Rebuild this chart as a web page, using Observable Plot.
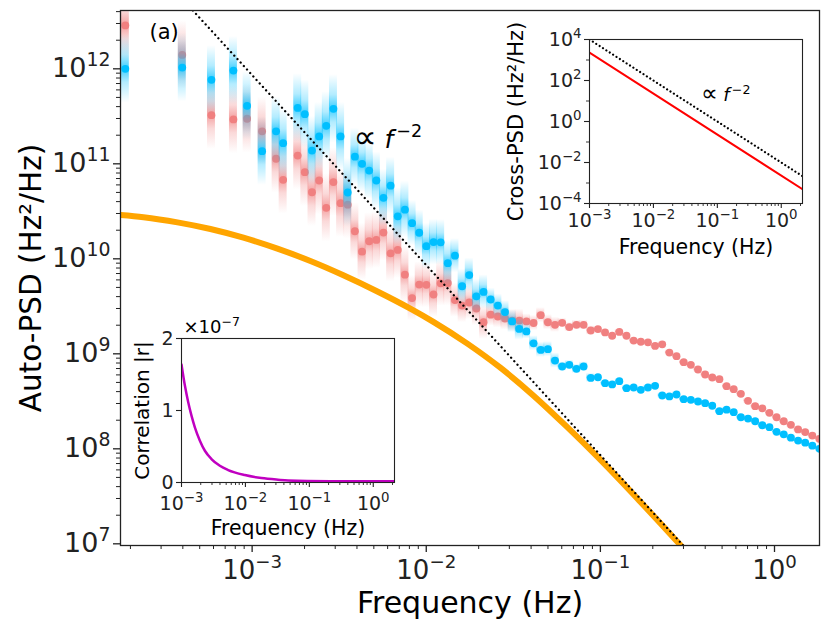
<!DOCTYPE html>
<html><head><meta charset="utf-8">
<script src="https://cdn.jsdelivr.net/npm/d3@7"></script>
<script src="https://cdn.jsdelivr.net/npm/@observablehq/plot@0.6"></script>
<style>
body{margin:0;background:#fff;}
#wrap{position:relative;width:831px;height:632px;font-family:"DejaVu Sans",sans-serif;}
#wrap svg{position:absolute;}
</style></head><body><div id="wrap"></div>
<script>
// ---------- data ----------
const freq = [1.87e-4,3.97e-4,5.84e-4,7.81e-4,9.36e-4,1.141e-3,1.373e-3,1.507e-3,
1.827e-3,2.008e-3,2.207e-3,2.426e-3,2.667e-3,2.931e-3,3.222e-3,3.541e-3,3.892e-3,4.278e-3,4.702e-3,5.168e-3,5.681e-3,6.244e-3,6.863e-3,7.543e-3,8.291e-3,9.113e-3,
1.002e-2,1.101e-2,1.210e-2,1.330e-2,1.462e-2,1.607e-2,1.766e-2,1.941e-2,2.134e-2,2.345e-2,2.578e-2,2.833e-2,3.114e-2,3.423e-2,3.762e-2,4.135e-2,4.545e-2,4.995e-2,5.490e-2,6.034e-2,6.632e-2,7.289e-2,8.012e-2,8.806e-2,9.680e-2,
0.1064,0.1169,0.1285,0.1413,0.1553,0.1707,0.1876,0.2062,0.2266,0.2491,0.2738,0.3010,0.3308,0.3636,0.3996,0.4392,0.4828,0.5306,0.5832,0.6410,0.7045,0.7745,0.8511,0.9356,1.028,1.130,1.242,1.366,1.501,1.650,1.813];
const psdRed = [2.86e12,1.40e12,3.25e11,2.93e11,2.98e11,2.20e11,1.13e11,6.79e10,
1.22e11,8.17e10,5.02e10,6.67e10,3.44e10,6.43e10,3.85e10,3.71e10,1.95e10,1.19e10,1.53e10,1.58e10,1.89e10,1.14e10,1.24e10,6.81e9,3.86e9,5.35e9,
5.32e9,4.21e9,5.52e9,5.56e9,3.68e9,3.22e9,3.47e9,3.00e9,2.15e9,2.58e9,2.47e9,2.35e9,2.24e9,2.24e9,2.19e9,2.11e9,2.55e9,2.15e9,2.02e9,2.12e9,1.91e9,2.02e9,2.02e9,1.76e9,1.82e9,
1.68e9,1.55e9,1.70e9,1.55e9,1.38e9,1.34e9,1.32e9,1.21e9,1.26e9,1.03e9,9.44e8,8.16e8,7.66e8,6.84e8,6.06e8,5.63e8,5.41e8,4.56e8,4.24e8,3.79e8,3.20e8,2.81e8,2.67e8,2.39e8,2.15e8,1.95e8,1.79e8,1.60e8,1.50e8,1.38e8,1.27e8];
const psdBlue = [1.00e12,1.03e12,7.66e11,9.59e11,4.08e11,1.36e11,2.20e11,1.65e11,
3.88e11,3.33e11,1.38e11,1.94e11,2.51e11,3.79e11,1.94e11,4.99e10,1.19e11,1.00e11,8.49e10,6.67e10,4.39e10,5.88e10,2.80e10,3.29e10,2.37e10,1.88e10,
1.36e10,1.50e10,1.49e10,9.00e9,1.08e10,5.14e9,6.74e9,4.03e9,4.48e9,3.73e9,3.22e9,2.75e9,2.19e9,1.83e9,1.72e9,1.29e9,1.10e9,1.12e9,8.49e8,7.35e8,7.66e8,6.95e8,7.35e8,5.58e8,5.67e8,
4.91e8,4.76e8,5.15e8,4.35e8,4.42e8,4.18e8,4.42e8,4.60e8,3.64e8,3.56e8,3.73e8,3.33e8,3.28e8,3.15e8,3.02e8,2.84e8,2.49e8,2.58e8,2.43e8,2.15e8,2.08e8,1.95e8,1.77e8,1.69e8,1.51e8,1.42e8,1.31e8,1.22e8,1.16e8,1.08e8,1.00e8];
// half-length of the shaded uncertainty band, in decades
const errDec = [0.36,0.36,0.36,0.36,0.36,0.36,0.36,0.36,0.36,0.36,0.36,0.36,0.36,0.36,0.36,0.36,
0.30,0.30,0.30,0.30,0.30,0.30,0.30,0.30,
0.24,0.24,0.24,0.24,0.24,0.24,
0.18,0.18,0.18,0.18,0.18,
0.12,0.12,0.12,0.12,0.12,
0.08,0.08,0.08,0.08,0.08,
0.05,0.05,0.05,0.05,0.05,
0.03,0.03,0.03,0.03,0.03,0.03,0.03,0.03,0.03,0.03,0.03,0.03,0.03,0.03,0.03,0.03,0.03,0.03,0.03,0.03,0.03,0.03,0.03,0.03,0.03,0.03,0.03,0.03,0.03,0.03,0.03,0.03];
const modelFreq = [1.754e-4,2.377e-4,3.725e-4,5.762e-4,8.915e-4,1.397e-3,2.161e-3,3.343e-3,5.241e-3,8.104e-3,1.099e-2,1.722e-2,2.664e-2,4.119e-2,6.457e-2,9.599e-2,0.1301,0.1694,0.2208,0.2875,0.3746];
const modelPSD = [2.89e10,2.74e10,2.42e10,2.06e10,1.67e10,1.28e10,9.48e9,6.71e9,4.53e9,2.99e9,2.17e9,1.28e9,7.14e8,3.65e8,1.69e8,8.26e7,4.65e7,2.78e7,1.65e7,9.75e6,5.75e6];
const refFreq = [3e-4, 0.4];
const refPSD = [9.54e12, 5.37e6];
// inset: cross-PSD
const crossFreq = [1e-3, 2.15];
const crossPSD = [2.3e3, 4.98e-4];
const crossRef = [1e4, 2.16e-3];
// inset: correlation (units of 1e-7)
const corrFreq = [1.0e-3,1.13e-3,1.274e-3,1.433e-3,1.618e-3,1.939e-3,2.322e-3,2.944e-3,3.981e-3,5.37e-3,9.79e-3,1.778e-2,3.243e-2,4.645e-2,0.211,2.15];
const corrE7 = [1.64,1.346,1.114,0.928,0.766,0.581,0.441,0.326,0.232,0.173,0.103,0.061,0.038,0.028,0.019,0.017];
// ticks
const xMajor = [1e-3,1e-2,1e-1,1];
const yMajor = [1e7,1e8,1e9,1e10,1e11,1e12];
const insetXMajor = [1e-3,1e-2,1e-1,1];
const crossYMajor = [1e-4,1e-2,1,1e2,1e4];
const crossYMinor = [1e-3,1e-1,1e1,1e3];
const corrYTicks = [0,1,2];

// ---------- helpers ----------
const NS = "http://www.w3.org/2000/svg";
const sup = d => { const e = Math.round(Math.log10(d)); return "10^{" + String(e).replace("-", "\u2212") + "}"; };
function minor(lo, hi) { const out = []; for (let e = -6; e <= 13; e++) for (let m = 2; m <= 9; m++) { const v = m * Math.pow(10, e); if (v >= lo * 1.0001 && v <= hi * 0.9999) out.push(v); } return out; }
// markup: ^{..} superscript, *..* italic, ~..~ enlarged symbol
function richify(root) {
  root.querySelectorAll("text").forEach(t => {
    const s = t.textContent;
    if (s.trim() === "") { t.remove(); return; }
    if (!/[\^*~]/.test(s)) return;
    const fs = parseFloat(getComputedStyle(t).fontSize);
    const parts = s.split(/(\^\{[^}]*\}|\*[^*]+\*|~[^~]+~)/).filter(p => p !== "");
    t.textContent = "";
    let raised = 0, prevItalic = false;
    for (const p of parts) {
      const ts = document.createElementNS(NS, "tspan");
      if (p.startsWith("^{")) {
        ts.textContent = p.slice(2, -1);
        ts.setAttribute("font-size", (fs * 0.7) + "px");
        ts.setAttribute("dy", (-fs * 0.42) + "px");
        if (prevItalic) ts.setAttribute("dx", (fs * 0.12) + "px");
        raised = fs * 0.42; prevItalic = false;
      } else {
        prevItalic = false;
        if (p.startsWith("*")) { ts.textContent = p.slice(1, -1); ts.setAttribute("font-style", "italic"); prevItalic = true; }
        else if (p.startsWith("~")) { ts.textContent = p.slice(1, -1); ts.setAttribute("font-size", (fs * 1.3) + "px"); }
        else ts.textContent = p;
        if (raised) { ts.setAttribute("dy", raised + "px"); raised = 0; }
      }
      t.appendChild(ts);
    }
  });
}
function addGradient(svg, id, color, peak) {
  let defs = svg.querySelector("defs");
  if (!defs) { defs = document.createElementNS(NS, "defs"); svg.insertBefore(defs, svg.firstChild); }
  const g = document.createElementNS(NS, "linearGradient");
  g.setAttribute("id", id); g.setAttribute("x1", "0"); g.setAttribute("y1", "0"); g.setAttribute("x2", "0"); g.setAttribute("y2", "1");
  [[0, 0], [0.3, peak * 0.4], [0.5, peak], [0.7, peak * 0.4], [1, 0]].forEach(([o, a]) => {
    const s = document.createElementNS(NS, "stop");
    s.setAttribute("offset", o); s.setAttribute("stop-color", color); s.setAttribute("stop-opacity", a);
    g.appendChild(s);
  });
  defs.appendChild(g);
}

const RED = "#f08080", BLUE = "#00bfff", AX = "#222";
const pts = freq.map((f, i) => ({f, red: psdRed[i], blue: psdBlue[i], e: errDec[i]}));
const model = modelFreq.map((f, i) => ({f, s: modelPSD[i]}));
const ref = refFreq.map((f, i) => ({f, s: refPSD[i]}));
const bw = 1.054;

const xDom = [1.754e-4, 1.813];
const yDom = [9.6e6, 4.11e12];

const main = Plot.plot({
  width: 831, height: 632,
  marginLeft: 120, marginRight: 12, marginTop: 10, marginBottom: 87,
  style: {fontFamily: "DejaVu Sans", background: "transparent", overflow: "visible", color: AX},
  x: {type: "log", domain: xDom, label: null},
  y: {type: "log", domain: yDom, label: null},
  marks: [
    Plot.rect(pts, {x1: d => d.f / bw, x2: d => d.f * bw, y1: d => d.red / Math.pow(10, d.e), y2: d => d.red * Math.pow(10, d.e), fill: "url(#gR)", clip: true}),
    Plot.dot(pts, {x: "f", y: "red", r: 3.9, fill: RED, clip: true}),
    Plot.rect(pts, {x1: d => d.f / bw, x2: d => d.f * bw, y1: d => d.blue / Math.pow(10, d.e), y2: d => d.blue * Math.pow(10, d.e), fill: "url(#gB)", clip: true}),
    Plot.dot(pts, {x: "f", y: "blue", r: 3.9, fill: BLUE, clip: true}),
    Plot.line(model, {x: "f", y: "s", stroke: "orange", strokeWidth: 6, curve: "monotone-x", clip: true}),
    Plot.line(ref, {x: "f", y: "s", stroke: "black", strokeWidth: 2.3, strokeDasharray: "0.01,4.7", strokeLinecap: "round", clip: true}),
    Plot.axisX({ticks: xMajor, tickFormat: sup, tickSize: 7, tickPadding: 8, fontSize: 26, stroke: AX, strokeWidth: 1.3, label: null}),
    Plot.axisX({ticks: minor(...xDom), tickFormat: () => "", tickSize: 4, stroke: AX, strokeWidth: 1, label: null}),
    Plot.axisY({ticks: yMajor, tickFormat: sup, tickSize: 7, tickPadding: 3, fontSize: 27, stroke: AX, strokeWidth: 1.3, label: null}),
    Plot.axisY({ticks: minor(...yDom), tickFormat: () => "", tickSize: 4, stroke: AX, strokeWidth: 1, label: null}),
    Plot.text(["Auto-PSD (Hz\u00b2/Hz)"], {frameAnchor: "left", dx: -89, rotate: -90, textAnchor: "middle", lineAnchor: "middle", fontSize: 29.5, fill: "black"}),
    Plot.text(["Frequency (Hz)"], {frameAnchor: "bottom", dy: 58, textAnchor: "middle", lineAnchor: "middle", fontSize: 30, fill: "black"}),
    Plot.text(["(a)"], {frameAnchor: "top-left", dx: 29, dy: 22, lineAnchor: "middle", textAnchor: "start", fontSize: 21, fill: "black"}),
    Plot.text(["~\u221d~ *f*^{\u22122}"], {x: 3.815e-3, y: 1.80e11, textAnchor: "start", lineAnchor: "middle", fontSize: 25, fill: "black"}),
    Plot.frame({stroke: AX, strokeWidth: 1.3})
  ]
});
addGradient(main, "gR", RED, 0.75);
addGradient(main, "gB", BLUE, 0.75);
main.style.left = "0px"; main.style.top = "0px";
const wrap = document.getElementById("wrap");
wrap.appendChild(main);

// ---------- inset 1: cross-PSD ----------
const insDom = [1e-3, 2.15];
const cross = crossFreq.map((f, i) => ({f, s: crossPSD[i], r: crossRef[i]}));
const ins1 = Plot.plot({
  width: 330, height: 241,
  marginLeft: 105, marginRight: 12, marginTop: 12, marginBottom: 65,
  style: {fontFamily: "DejaVu Sans", background: "transparent", overflow: "visible", color: AX},
  x: {type: "log", domain: insDom, label: null},
  y: {type: "log", domain: [1e-4, 1e4], label: null},
  marks: [
    Plot.frame({fill: "white", stroke: "none"}),
    Plot.line(cross, {x: "f", y: "s", stroke: "red", strokeWidth: 2, clip: true}),
    Plot.line(cross, {x: "f", y: "r", stroke: "black", strokeWidth: 2.2, strokeDasharray: "0.01,4", strokeLinecap: "round", clip: true}),
    Plot.axisX({ticks: insetXMajor, tickFormat: sup, tickSize: 5, tickPadding: 5, fontSize: 19, stroke: AX, strokeWidth: 1.1, label: null}),
    Plot.axisX({ticks: minor(...insDom), tickFormat: () => "", tickSize: 3, stroke: AX, strokeWidth: 0.9, label: null}),
    Plot.axisY({ticks: crossYMajor, tickFormat: sup, tickSize: 5, tickPadding: 3, fontSize: 19, stroke: AX, strokeWidth: 1.1, label: null}),
    Plot.axisY({ticks: crossYMinor, tickFormat: () => "", tickSize: 3, stroke: AX, strokeWidth: 0.9, label: null}),
    Plot.text(["Cross-PSD (Hz\u00b2/Hz)"], {frameAnchor: "left", dx: -73, rotate: -90, textAnchor: "middle", lineAnchor: "middle", fontSize: 21, fill: "black"}),
    Plot.text(["Frequency (Hz)"], {frameAnchor: "bottom", dy: 44, textAnchor: "middle", lineAnchor: "middle", fontSize: 20.5, fill: "black"}),
    Plot.text(["~\u221d~ *f*^{\u22122}"], {x: 0.0553, y: 18.5, textAnchor: "start", lineAnchor: "middle", fontSize: 18, fill: "black"}),
    Plot.frame({stroke: AX, strokeWidth: 1.1})
  ]
});
ins1.style.left = (589 - 105) + "px"; ins1.style.top = (39 - 12) + "px";
wrap.appendChild(ins1);

// ---------- inset 2: correlation ----------
const corr = corrFreq.map((f, i) => ({f, r: corrE7[i]}));
const ins2 = Plot.plot({
  width: 305, height: 234,
  marginLeft: 80, marginRight: 12, marginTop: 30, marginBottom: 60,
  style: {fontFamily: "DejaVu Sans", background: "transparent", overflow: "visible", color: AX},
  x: {type: "log", domain: insDom, label: null},
  y: {domain: [0, 2], label: null},
  marks: [
    Plot.frame({fill: "white", stroke: "none"}),
    Plot.line(corr, {x: "f", y: "r", stroke: "#c000c0", strokeWidth: 2.5, curve: "monotone-x", clip: true}),
    Plot.axisX({ticks: insetXMajor, tickFormat: sup, tickSize: 5, tickPadding: 9, fontSize: 19, stroke: AX, strokeWidth: 1.1, label: null}),
    Plot.axisX({ticks: minor(...insDom), tickFormat: () => "", tickSize: 3, stroke: AX, strokeWidth: 0.9, label: null}),
    Plot.axisY({ticks: corrYTicks, tickFormat: d => String(d), tickSize: 5, tickPadding: 3, fontSize: 19, stroke: AX, strokeWidth: 1.1, label: null}),
    Plot.text(["Correlation |r|"], {frameAnchor: "left", dx: -39, rotate: -90, textAnchor: "middle", lineAnchor: "middle", fontSize: 20, fill: "black"}),
    Plot.text(["Frequency (Hz)"], {frameAnchor: "bottom", dy: 46, textAnchor: "middle", lineAnchor: "middle", fontSize: 20.5, fill: "black"}),
    Plot.text(["\u00d710^{\u22127}"], {frameAnchor: "top-left", dx: 2, dy: -11, lineAnchor: "middle", textAnchor: "start", fontSize: 18, fill: "black"}),
    Plot.frame({stroke: AX, strokeWidth: 1.1})
  ]
});
ins2.style.left = (181 - 80) + "px"; ins2.style.top = (338 - 30) + "px";
wrap.appendChild(ins2);

richify(wrap);
</script></body></html>
